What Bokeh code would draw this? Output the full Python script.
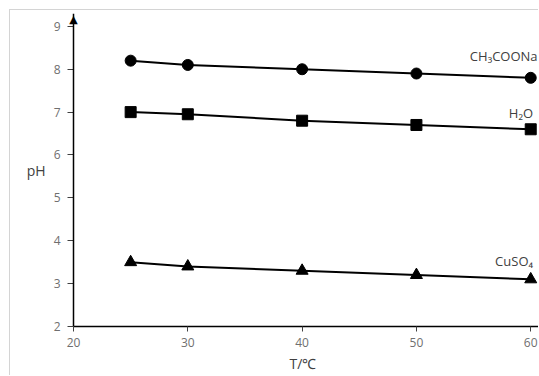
from bokeh.plotting import figure
from bokeh.models import Range1d, FixedTicker, Label, ColumnDataSource, Span
from bokeh.core.properties import value
from bokeh.embed import file_html
from bokeh.resources import INLINE

temps = [25, 30, 40, 50, 60]
ch3coona = [8.2, 8.1, 8.0, 7.9, 7.8]
h2o = [7.0, 6.95, 6.8, 6.7, 6.6]
cuso4 = [3.5, 3.4, 3.3, 3.2, 3.1]
x_ticks = [20, 30, 40, 50, 60]
y_ticks = [2, 3, 4, 5, 6, 7, 8, 9]
series_names = ["CH\u2083COONa", "H\u2082O", "CuSO\u2084"]
label_x = [60.6, 60.2, 60.2]
label_y = [8.3, 6.99, 3.52]

FONT = "Open Sans"
TICK_COLOR = "#6f6f6f"
LABEL_COLOR = "#404040"

p = figure(width=529, height=366, output_backend="svg", toolbar_location=None,
           x_range=Range1d(19.475, 60.68), y_range=Range1d(2, 9.3),
           min_border_left=57, min_border_right=1, min_border_top=3, min_border_bottom=50)
p.styles = {"margin-left": "9px", "margin-top": "9px",
            "border-left": "1px solid #d4d4d4", "border-top": "1px solid #d4d4d4"}
p.outline_line_color = None
p.grid.visible = False

# x axis
xa = p.xaxis[0]
xa.ticker = FixedTicker(ticks=x_ticks)
xa.bounds = (20, 60.68)
xa.axis_line_color = "black"
xa.axis_line_width = 1.5
xa.major_tick_line_color = "#404040"
xa.major_tick_in = 0
xa.major_tick_out = 5
xa.minor_tick_line_color = None
xa.major_label_text_font = FONT
xa.major_label_text_font_size = "12px"
xa.major_label_text_color = TICK_COLOR
xa.major_label_standoff = 6
xa.axis_label = "T/\u2103"
xa.axis_label_standoff = 4
xa.axis_label_text_font = FONT
xa.axis_label_text_font_size = "14px"
xa.axis_label_text_font_style = "normal"
xa.axis_label_text_color = LABEL_COLOR

# y axis: ticks + labels in the left panel, the line itself at x = 20
ya = p.yaxis[0]
ya.ticker = FixedTicker(ticks=y_ticks)
ya.axis_line_color = None
ya.major_tick_line_color = "#404040"
ya.major_tick_in = 6
ya.major_tick_out = 0
ya.minor_tick_line_color = None
ya.major_label_text_font = FONT
ya.major_label_text_font_size = "12px"
ya.major_label_text_color = TICK_COLOR
ya.major_label_standoff = 7
ya.axis_label = "pH"
ya.axis_label_orientation = "horizontal"
ya.axis_label_standoff = 5
ya.axis_label_text_font = FONT
ya.axis_label_text_font_size = "14px"
ya.axis_label_text_font_style = "normal"
ya.axis_label_text_color = LABEL_COLOR

p.add_layout(Span(location=20, dimension="height", line_color="black", line_width=1.5))

# y-axis arrow head
p.add_layout(Label(x=20, y=9.3, text="\u25b2", text_align="center", text_baseline="top",
                   text_font="DejaVu Sans", text_font_size="11px", text_color="black",
                   y_offset=1))

src = ColumnDataSource(dict(t=temps, a=ch3coona, b=h2o, c=cuso4))
for col, marker in (("a", "circle"), ("b", "square"), ("c", "triangle")):
    p.line("t", col, source=src, line_color="black", line_width=2)
    p.scatter("t", col, source=src, marker=marker, size=11 if marker != "triangle" else 12,
              fill_color="black", line_color="black")

p.text(x=label_x, y=label_y, text=series_names, text_align="right", text_baseline="alphabetic",
       text_font=value(FONT), text_font_size="13px", text_color=LABEL_COLOR)

open("out.html", "w").write(file_html(p, INLINE))
